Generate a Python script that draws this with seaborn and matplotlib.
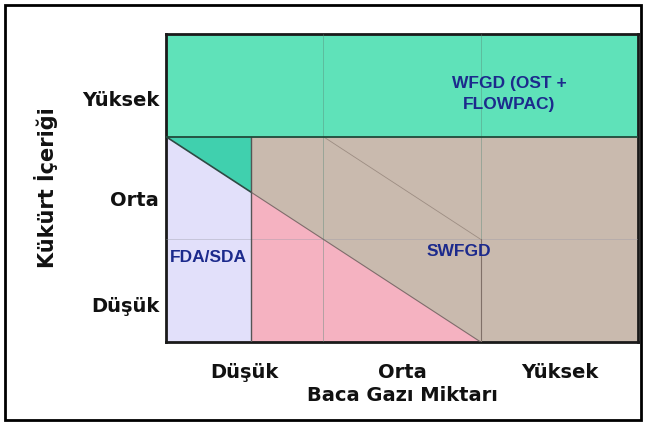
import numpy as np
import pandas as pd
import seaborn as sns
import matplotlib.pyplot as plt
from matplotlib.patches import Rectangle

# ---- data ----
x_categories = ["Düşük", "Orta", "Yüksek"]
y_categories = ["Düşük", "Orta", "Yüksek"]
x_tick_pos = [0.5, 1.5, 2.5]
y_tick_pos = [0.37, 1.40, 2.37]
x_label = "Baca Gazı Miktarı"
y_label = "Kükürt İçeriği"

fda_split = 0.54            # FDA/SDA limit on flue-gas axis
wfgd_low = 2.0              # WFGD lower bound on sulphur axis
diag_x = [0.0, 2.0]          # boundary line FDA/SWFGD
diag_y = [2.0, 0.0]
inner_x = [1.0, 2.0]
inner_y = [2.0, 1.0]

labels = ["WFGD (OST +\nFLOWPAC)", "SWFGD", "FDA/SDA"]
label_x = [2.18, 1.86, 0.27]
label_y = [2.42, 0.88, 0.82]

sns.set_theme(style="white")
plt.rcParams['font.family'] = ['DejaVu Sans']

fig = plt.figure(figsize=(6.46, 4.25), dpi=100)
ax = fig.add_axes([166/646, 1-342/425, (638-166)/646, (342-34)/425])

teal = "#5fe2b9"
teal_dark = "#40d0ae"
lav = "#e2e0fa"
pink = "#f5b2c1"
tan = "#c9baae"

def diag(x):
    return np.interp(x, diag_x, diag_y)

# top WFGD band
ax.fill_between([0, 3], wfgd_low, 3, color=teal, lw=0, zorder=1)
# FDA/SDA lavender
ax.fill_between([0, fda_split], 0, wfgd_low, color=lav, lw=0, zorder=1)
# teal triangle above diagonal in left column
xs = np.array([0, fda_split])
ax.fill_between(xs, diag(xs), wfgd_low, color=teal_dark, lw=0, zorder=2)
# tan SWFGD
ax.fill_between([fda_split, 3], 0, wfgd_low, color=tan, lw=0, zorder=1)
# pink below diagonal
xs2 = np.array([fda_split, 2.0])
ax.fill_between(xs2, 0, diag(xs2), color=pink, lw=0, zorder=2)

# grid lines
for gx in [1, 2]:
    ax.plot([gx, gx], [0, 3], color="#5a8a7a", lw=0.6, alpha=0.5, zorder=3)
ax.plot([0, 3], [1, 1], color="#9a9aa8", lw=0.6, alpha=0.45, zorder=3)

# boundaries
upper_df = pd.DataFrame({"x": [diag_x[0], fda_split], "y": [diag_y[0], diag(fda_split)]})
sns.lineplot(data=upper_df, x="x", y="y", ax=ax, color="#2f4a44", lw=1.2, zorder=4)
line_df = pd.DataFrame({"x": [fda_split, diag_x[1]], "y": [diag(fda_split), diag_y[1]]})
sns.lineplot(data=line_df, x="x", y="y", ax=ax, color="#6a5a5a", lw=0.8, alpha=0.8, zorder=4)
inner_df = pd.DataFrame({"x": inner_x, "y": inner_y})
sns.lineplot(data=inner_df, x="x", y="y", ax=ax, color="#8a7a70", lw=0.6, alpha=0.7, zorder=4)
ax.plot([fda_split, fda_split], [0, wfgd_low], color="#555555", lw=1.0, zorder=4)
ax.plot([0, 3], [wfgd_low, wfgd_low], color="#1f4a3a", lw=1.3, zorder=4)
ax.plot([2, 2], [0, 1], color="#807068", lw=0.8, zorder=4)

for t, lx, ly in zip(labels, label_x, label_y):
    ax.text(lx, ly, t, ha="center", va="center", color="#1c2a8c",
            fontsize=12.5, fontweight="bold", family=["Liberation Sans", "DejaVu Sans"],
            linespacing=1.5, zorder=5)

ax.set_xlim(0, 3)
ax.set_ylim(0, 3)
ax.set_xticks(x_tick_pos)
ax.set_xticklabels(x_categories, fontsize=14, fontweight="bold", color="#111111")
ax.set_yticks(y_tick_pos)
ax.set_yticklabels(y_categories, fontsize=14, fontweight="bold", color="#111111")
ax.tick_params(axis="x", length=0, pad=15)
ax.tick_params(axis="y", length=0, pad=5)
ax.set_xlabel(x_label, fontsize=14, fontweight="bold", labelpad=3, color="#111111")
ax.set_ylabel(y_label, fontsize=15, fontweight="bold", labelpad=17, color="#111111")
for s in ax.spines.values():
    s.set_visible(True)
    s.set_color("#1a1a1a")
    s.set_linewidth(2)

fig.patches.append(Rectangle((5/646, 5/425), 636/646, 415/425, transform=fig.transFigure,
                             fill=False, edgecolor="black", lw=2))

fig.savefig("out.png", dpi=100)
